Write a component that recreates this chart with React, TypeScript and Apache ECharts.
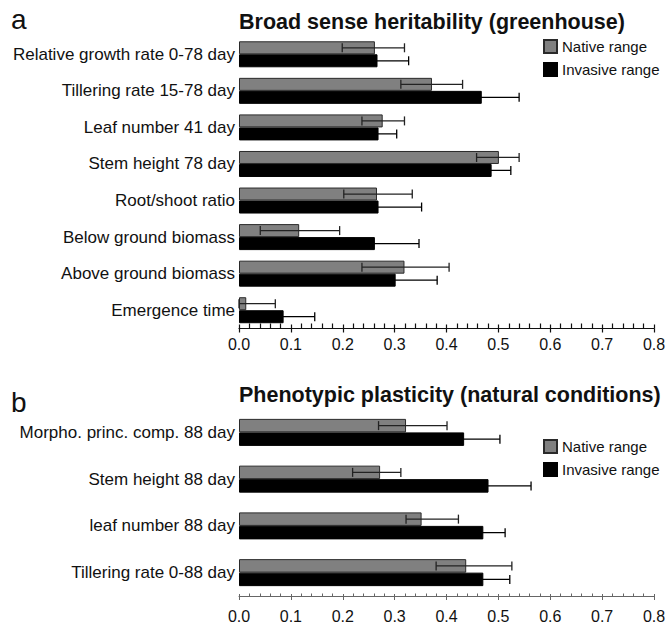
import React, { useEffect, useRef } from "react";
import * as echarts from "echarts";

const FONT = '"Liberation Sans", Arial, Helvetica, sans-serif';

const titleA = "Broad sense heritability (greenhouse)";
const titleB = "Phenotypic plasticity (natural conditions)";
const seriesNames = ["Native range", "Invasive range"];
const tickLabels = ["0.0", "0.1", "0.2", "0.3", "0.4", "0.5", "0.6", "0.7", "0.8"];

const categoriesA = [
  "Relative growth rate 0-78 day",
  "Tillering rate 15-78 day",
  "Leaf number 41 day",
  "Stem height 78 day",
  "Root/shoot ratio",
  "Below ground biomass",
  "Above ground biomass",
  "Emergence time",
];
const nativeA = [0.262, 0.372, 0.277, 0.501, 0.266, 0.116, 0.319, 0.014];
const nativeALow = [0.199, 0.312, 0.237, 0.458, 0.202, 0.041, 0.237, 0.0];
const nativeAHigh = [0.319, 0.431, 0.319, 0.54, 0.334, 0.194, 0.405, 0.07];
const invasiveA = [0.267, 0.468, 0.269, 0.487, 0.269, 0.262, 0.302, 0.086];
const invasiveALow = [0.207, 0.396, 0.234, 0.45, 0.186, 0.177, 0.222, 0.026];
const invasiveAHigh = [0.327, 0.54, 0.304, 0.524, 0.352, 0.347, 0.382, 0.146];

const categoriesB = [
  "Morpho. princ. comp. 88 day",
  "Stem height 88 day",
  "leaf number 88 day",
  "Tillering rate 0-88 day",
];
const nativeB = [0.322, 0.272, 0.352, 0.438];
const nativeBLow = [0.269, 0.219, 0.322, 0.38];
const nativeBHigh = [0.401, 0.312, 0.423, 0.526];
const invasiveB = [0.434, 0.481, 0.471, 0.471];
const invasiveBLow = [0.365, 0.399, 0.429, 0.42];
const invasiveBHigh = [0.503, 0.563, 0.513, 0.522];

const GRAY = "#808080";

function errSeries(name: string, gridIdx: number, low: number[], high: number[], side: number, bw: number, color: string) {
  return {
    type: "custom",
    name,
    xAxisIndex: gridIdx * 2,
    yAxisIndex: gridIdx,
    z: 5,
    silent: true,
    encode: { x: [0, 1], y: 2 },
    data: low.map((l, i) => [l, high[i], i]),
    renderItem: (params: any, api: any) => {
      const lo = api.value(0);
      const hi = api.value(1);
      const cat = api.value(2);
      const p1 = api.coord([lo, cat]);
      const p2 = api.coord([hi, cat]);
      const y = p1[1] + (side * bw) / 2;
      const cap = 4.5;
      const st = { stroke: color, lineWidth: 1.3 };
      return {
        type: "group",
        children: [
          { type: "line", shape: { x1: p1[0], y1: y, x2: p2[0], y2: y }, style: st },
          { type: "line", shape: { x1: p1[0], y1: y - cap, x2: p1[0], y2: y + cap }, style: st },
          { type: "line", shape: { x1: p2[0], y1: y - cap, x2: p2[0], y2: y + cap }, style: st },
        ],
      };
    },
  };
}

function xAxes(gridIdx: number, color: string, width: number, tickDown: number, tickUp: number, minorLen: number, margin: number) {
  const ls = { color, width };
  return [
    {
      gridIndex: gridIdx,
      type: "value",
      min: 0,
      max: 0.8,
      interval: 0.1,
      position: "bottom",
      axisLine: { show: true, lineStyle: ls },
      axisTick: { show: true, length: tickDown, lineStyle: ls },
      axisLabel: {
        fontSize: 16,
        color: "#111",
        fontFamily: FONT,
        margin,
        formatter: (v: number) => tickLabels[Math.round(v * 10)],
      },
      splitLine: { show: false },
    },
    {
      gridIndex: gridIdx,
      type: "value",
      min: 0,
      max: 0.8,
      interval: 0.1,
      position: "bottom",
      axisLine: { show: false },
      axisLabel: { show: false },
      splitLine: { show: false },
      axisTick: { show: true, inside: true, length: tickUp, lineStyle: ls },
      minorTick: { show: true, splitNumber: 5, length: minorLen, lineStyle: ls },
    },
  ];
}

function yAxis(gridIdx: number, cats: string[]) {
  return {
    gridIndex: gridIdx,
    type: "category",
    data: cats,
    inverse: true,
    axisLine: { show: false },
    axisTick: { show: false },
    axisLabel: { fontSize: 17, color: "#111", fontFamily: FONT, margin: 4, interval: 0 },
  };
}

function barSeries(name: string, gridIdx: number, data: number[], color: string, border: string, bw: number) {
  return {
    type: "bar",
    name,
    xAxisIndex: gridIdx * 2,
    yAxisIndex: gridIdx,
    data,
    barWidth: bw,
    barGap: "0%",
    z: 2,
    itemStyle: { color, borderColor: border, borderWidth: 1 },
  };
}

function legend(top: number) {
  return {
    data: seriesNames,
    orient: "vertical",
    left: 543,
    top,
    padding: 0,
    icon: "rect",
    itemWidth: 13,
    itemHeight: 13,
    itemGap: 8,
    selectedMode: false,
    textStyle: { fontSize: 15, color: "#111", fontFamily: FONT, lineHeight: 15 },
  };
}

export default function App() {
  const ref = useRef<HTMLDivElement>(null);
  useEffect(() => {
    document.body.style.margin = "0";
    if (!ref.current) return;
    const chart = echarts.init(ref.current, undefined, { renderer: "svg" });
    const bwA = 13;
    const bwB = 13.5;
    chart.setOption({
      animation: false,
      backgroundColor: "#ffffff",
      textStyle: { fontFamily: FONT },
      grid: [
        { left: 239, width: 415, top: 36, height: 292.5 },
        { left: 239, width: 415, top: 409, height: 187 },
      ],
      xAxis: [...xAxes(0, "#111", 1.2, 4, 4, 5, 8), ...xAxes(1, "#666", 1, 4, 2, 2.5, 12)],
      yAxis: [yAxis(0, categoriesA), yAxis(1, categoriesB)],
      legend: [legend(39), legend(439)],
      graphic: [
        { type: "text", x: 11, y: 19.6, style: { text: "a", font: `28px ${FONT}`, fill: "#111", verticalAlign: "middle" } },
        { type: "text", x: 239, y: 22, style: { text: titleA, font: `bold 21.5px ${FONT}`, fill: "#111", verticalAlign: "middle" } },
        { type: "text", x: 11, y: 402.3, style: { text: "b", font: `28px ${FONT}`, fill: "#111", verticalAlign: "middle" } },
        { type: "text", x: 239, y: 395, style: { text: titleB, font: `bold 21.5px ${FONT}`, fill: "#111", verticalAlign: "middle" } },
      ],
      series: [
        barSeries(seriesNames[0], 0, nativeA, GRAY, "#2a2a2a", bwA),
        barSeries(seriesNames[1], 0, invasiveA, "#000000", "#000000", bwA),
        barSeries(seriesNames[0], 1, nativeB, GRAY, "#2a2a2a", bwB),
        barSeries(seriesNames[1], 1, invasiveB, "#000000", "#000000", bwB),
        errSeries("errNA", 0, nativeALow, nativeAHigh, -1, bwA, "#222222"),
        errSeries("errIA", 0, invasiveALow, invasiveAHigh, 1, bwA, "#000000"),
        errSeries("errNB", 1, nativeBLow, nativeBHigh, -1, bwB, "#222222"),
        errSeries("errIB", 1, invasiveBLow, invasiveBHigh, 1, bwB, "#000000"),
      ],
    });
    return () => chart.dispose();
  }, []);
  return <div ref={ref} style={{ width: 669, height: 627 }} />;
}
